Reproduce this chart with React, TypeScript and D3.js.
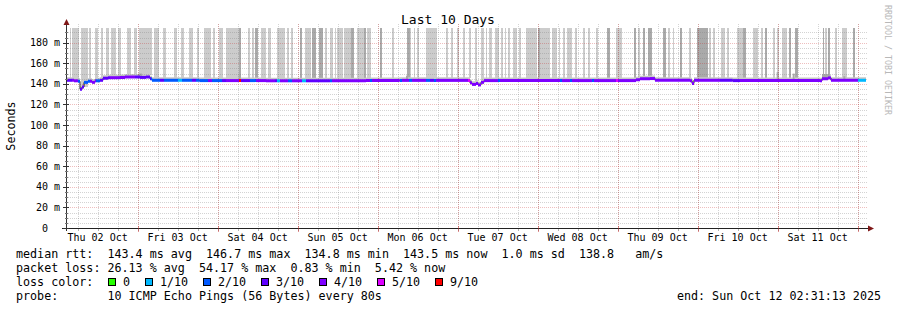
import React from "react";
import * as d3 from "d3";

const START = new Date(2025, 9, 2, 2, 31, 13);
const TOTAL_HOURS = 240;

const dayLabels = ["Thu 02 Oct", "Fri 03 Oct", "Sat 04 Oct", "Sun 05 Oct", "Mon 06 Oct", "Tue 07 Oct", "Wed 08 Oct", "Thu 09 Oct", "Fri 10 Oct", "Sat 11 Oct"];
const yTicks = [0, 20, 40, 60, 80, 100, 120, 140, 160, 180];
const yTickLabels = ["0", "20 m", "40 m", "60 m", "80 m", "100 m", "120 m", "140 m", "160 m", "180 m"];

// median rtt (ms) at hours since start
const medianPts: [number, number][] = [
  [0, 143.5], [2.4, 143.0], [3.6, 142.5], [4.2, 134.8], [4.8, 137.0], [5.4, 141.5], [6.6, 142.5],
  [7.8, 141.5], [8.7, 143.0], [10.2, 143.5], [11.1, 145.5], [12.6, 146.0], [16.2, 146.2], [17.7, 146.7],
  [22.2, 146.3], [24.0, 146.7], [25.2, 145.0], [25.8, 143.5], [40, 143.2], [60, 143.0], [90, 143.3],
  [100, 143.4], [121.2, 141.0], [121.8, 139.5], [123, 140.5], [123.6, 139.0], [124.5, 141.5], [125.4, 143.2],
  [150, 143.2], [171, 144.0], [172.2, 145.0], [175.2, 145.2], [176.7, 143.5], [187.2, 143.0], [187.8, 140.5],
  [188.4, 143.5], [200, 143.2], [226.2, 143.0], [226.8, 145.0], [228.6, 145.8], [229.5, 143.5], [240, 143.5],
];

// loss level (x/10) starting at hour
const lossSegs: [number, number][] = [
  [0, 3], [1.8, 4], [3.6, 2], [4.2, 3], [5.4, 2], [7.2, 4], [9.0, 2], [10.2, 3], [13.2, 4], [20.7, 3],
  [25.5, 2], [28.2, 3], [29.4, 2], [33.6, 1], [34.8, 2], [37.8, 3], [39.0, 2], [42.6, 4], [43.8, 2],
  [46.8, 3], [48.0, 4], [51.9, 9], [52.5, 3], [55.2, 2], [57.0, 4], [62.7, 3], [63.3, 1], [64.2, 4],
  [66.6, 2], [67.8, 4], [70.8, 1], [72.0, 3], [79.2, 2], [79.8, 4], [91.2, 2], [91.8, 4], [100.2, 2],
  [100.8, 4], [102.9, 2], [103.8, 4], [108.0, 2], [109.2, 3], [110.4, 2], [111.0, 4], [120.6, 5],
  [121.2, 4], [129.6, 2], [130.2, 4], [148.2, 2], [148.8, 4], [151.2, 2], [151.8, 4], [157.8, 2],
  [158.4, 4], [165.0, 5], [165.6, 4], [196.2, 3], [202.2, 4], [237.6, 1],
];

const lossColors: Record<number, string> = {
  0: "#26ff00", 1: "#00b8ff", 2: "#0059ff", 3: "#5e00ff", 4: "#7e00ff", 5: "#dd00ff", 9: "#ff0000",
};

const lossLegend = [
  { label: "0", level: 0 }, { label: "1/10", level: 1 }, { label: "2/10", level: 2 },
  { label: "3/10", level: 3 }, { label: "4/10", level: 4 }, { label: "5/10", level: 5 }, { label: "9/10", level: 9 },
];

// smoke columns: [startHour, endHour, dark?]
const smokeBars: [number, number, number][] = [
  [1.1, 1.4, 0], [1.8, 3.8, 0], [4.4, 6.6, 0], [7.0, 7.6, 0], [8.7, 9.6, 0], [10.4, 11.0, 0], [12.0, 12.8, 0],
  [13.6, 15.0, 0], [15.5, 16.5, 0], [18.2, 19.6, 0], [20.5, 21.2, 0], [22.0, 25.8, 0], [26.5, 28.0, 0],
  [29.2, 30.0, 0], [32.5, 33.2, 0], [34.6, 35.4, 0], [37.0, 38.2, 0], [39.3, 40.0, 0], [41.5, 43.6, 0],
  [44.1, 44.8, 0], [46.0, 47.0, 0],
  [48.0, 49.4, 0], [49.6, 51.8, 0], [52.0, 52.5, 1], [54.6, 55.2, 0], [55.8, 56.4, 0], [56.7, 57.6, 1],
  [58.5, 60.0, 0], [60.6, 61.5, 0], [63.3, 65.8, 0], [66.3, 67.0, 0], [67.5, 68.0, 0], [70.2, 70.8, 1],
  [71.7, 73.6, 0], [73.8, 75.0, 1], [75.8, 77.0, 1], [77.6, 78.4, 0], [79.2, 80.0, 0], [80.6, 81.0, 0],
  [81.4, 83.0, 0], [83.5, 85.5, 0], [85.6, 86.5, 1], [87.3, 89.5, 0], [89.5, 90.0, 1], [90.3, 91.5, 0],
  [94.2, 94.8, 1],
  [97.8, 98.4, 0], [102.2, 103.2, 1], [103.2, 103.6, 0], [104.4, 104.8, 0], [105.2, 105.8, 0],
  [108.0, 111.2, 0], [114.0, 114.6, 0], [115.4, 116.0, 0], [117.2, 117.8, 0], [119.0, 119.6, 0],
  [121.0, 121.6, 0], [122.8, 123.4, 0], [124.6, 125.4, 0], [126.0, 126.4, 0], [127.0, 127.8, 0],
  [128.6, 130.0, 0], [130.6, 131.2, 0], [131.6, 132.0, 0], [132.6, 133.2, 0], [134.0, 135.2, 0],
  [136.0, 136.5, 0], [138.0, 141.2, 0], [141.5, 142.2, 1], [142.2, 143.0, 0], [143.2, 144.0, 0],
  [144.0, 145.2, 0], [145.7, 147.2, 0], [147.8, 148.2, 0], [149.0, 149.6, 0], [150.2, 151.8, 0],
  [152.6, 153.2, 0], [155.0, 155.8, 0], [156.6, 157.2, 0], [159.0, 159.6, 0], [162.2, 163.2, 1],
  [165.0, 166.8, 0], [170.4, 171.0, 1], [171.6, 172.2, 0], [173.0, 173.6, 1], [174.6, 175.8, 1],
  [179.2, 180.0, 1], [180.6, 181.2, 0], [182.0, 182.4, 0], [184.2, 184.8, 1], [186.8, 187.4, 0],
  [189.4, 192.6, 1],
  [192.8, 193.4, 0], [194.2, 194.8, 0], [196.4, 197.6, 0], [198.4, 199.0, 0], [201.2, 203.0, 0],
  [203.0, 204.0, 1], [206.0, 207.6, 0], [208.6, 209.0, 0], [209.8, 210.2, 1], [212.0, 212.6, 0],
  [213.4, 213.8, 0], [214.8, 216.2, 0], [216.8, 217.4, 1], [218.8, 219.6, 1], [227.0, 227.4, 1],
  [227.8, 228.4, 0], [228.6, 229.2, 1], [230.8, 231.4, 0], [232.8, 234.4, 0], [236.0, 236.6, 1],
];

// smoke near the median: [startHour, endHour, top ms]
const smokeSpikes: [number, number, number][] = [
  [15.6, 18.0, 148], [21.6, 22.8, 150], [51.8, 52.4, 150], [102.0, 102.6, 148],
  [213.2, 213.8, 151.5], [218.0, 218.6, 150], [226.8, 229.2, 149.5], [233.2, 233.8, 147.5],
];

const legendRtt = "median rtt:  143.4 ms avg  146.7 ms max  134.8 ms min  143.5 ms now  1.0 ms sd  138.8   am/s";
const legendLoss = "packet loss: 26.13 % avg  54.17 % max  0.83 % min  5.42 % now";
const legendProbe = "probe:       10 ICMP Echo Pings (56 Bytes) every 80s";
const legendEnd = "end: Sun Oct 12 02:31:13 2025";

const W = 897, H = 310;
const X0 = 66, X1 = 866, YB = 228, YT = 28;
const MONO = "'DejaVu Sans Mono', monospace";

const toDate = (h: number) => new Date(START.getTime() + h * 3600e3);
const medianAt = (h: number) => {
  let v = medianPts[0][1];
  for (const p of medianPts) { if (p[0] <= h) v = p[1]; else break; }
  return v;
};

export default function App() {
  const end = toDate(TOTAL_HOURS);
  const x = d3.scaleTime().domain([START, end]).range([X0, X1]);
  const y = d3.scaleLinear().domain([0, 194.3]).range([YB, YT]);
  const xh = (h: number) => x(toDate(h));

  const minorT = d3.timeHour.every(6)!.range(START, end);
  const majorT = d3.timeDay.range(START, end);
  const minorY = d3.range(5, 195, 5).filter((v) => v % 20 !== 0);
  const majorY = yTicks.filter((v) => v > 0);
  const noon = majorT.map((d) => d3.timeHour.offset(d, -12));
  const crisp = (v: number) => Math.round(v) + 0.5;

  const lineGen = d3.line<[number, number]>()
    .x((d) => xh(d[0]))
    .y((d) => y(d[1]))
    .curve(d3.curveStepAfter);

  const bandArea = d3.area<[number, number]>()
    .x((d) => xh(d[0]))
    .y0((d) => y(d[1]))
    .y1((d) => y(d[1] + 3))
    .curve(d3.curveStepAfter);

  const pieces: { d: string; c: string }[] = [];
  lossSegs.forEach((seg, i) => {
    const s = seg[0];
    const e = i + 1 < lossSegs.length ? lossSegs[i + 1][0] : TOTAL_HOURS;
    const times = [s, ...medianPts.filter((p) => p[0] > s && p[0] < e).map((p) => p[0]), e];
    for (let k = 0; k < times.length - 1; k++) {
      const yy = y(medianAt(times[k]));
      pieces.push({ d: `M${xh(times[k])},${yy}H${xh(times[k + 1])}`, c: lossColors[seg[1]] });
    }
  });

  const charW = 7.0;
  let lx = 108;
  const legendItems = lossLegend.map((it) => {
    const item = { ...it, bx: lx, tx: lx + 15 };
    lx = lx + 15 + it.label.length * charW + 15;
    return item;
  });

  const minorStroke = "rgba(128,128,128,0.35)";
  const majorStroke = "rgba(200,40,40,0.3)";

  return (
    <svg width={W} height={H} style={{ position: "absolute", left: 0, top: 0, background: "#fff" }} fontFamily={MONO}>
      <rect x={0} y={0} width={W} height={H} fill="#ffffff" />
      {/* smoke columns */}
      <g shapeRendering="crispEdges">
        {smokeBars.map((b, i) => (
          <rect key={"sb" + i} x={Math.round(xh(b[0]))} width={Math.max(1, Math.round(xh(b[1])) - Math.round(xh(b[0])))} y={YT}
            height={Math.round(y(medianAt(b[0]) + 2)) - YT} fill={b[2] ? "#aaaaaa" : "#cccccc"} />
        ))}
      </g>
      <path d={bandArea(medianPts) || ""} fill="#c8c8c8" />
      {smokeSpikes.map((s, i) => (
        <rect key={"sp" + i} x={xh(s[0])} width={xh(s[1]) - xh(s[0])} y={y(s[2])}
          height={y(medianAt(s[0])) - y(s[2])} fill="#a8a8a8" />
      ))}
      {/* grid */}
      <g shapeRendering="crispEdges" strokeDasharray="1,1" strokeWidth={1}>
        {minorT.map((t, i) => (
          <line key={"mt" + i} x1={crisp(x(t))} x2={crisp(x(t))} y1={YT - 4} y2={YB} stroke={minorStroke} />
        ))}
        {minorY.map((v, i) => (
          <line key={"my" + i} x1={X0} x2={X1 + 2} y1={crisp(y(v))} y2={crisp(y(v))} stroke={minorStroke} />
        ))}
        {majorT.map((t, i) => (
          <line key={"Mt" + i} x1={crisp(x(t))} x2={crisp(x(t))} y1={YT - 4} y2={YB} stroke={majorStroke} />
        ))}
        {majorY.map((v, i) => (
          <line key={"My" + i} x1={X0} x2={X1 + 2} y1={crisp(y(v))} y2={crisp(y(v))} stroke={majorStroke} />
        ))}
      </g>
      {/* median line */}
      <path d={lineGen(medianPts) || ""} fill="none" stroke="#202020" strokeWidth={1} />
      {pieces.map((p, i) => (
        <path key={"pc" + i} d={p.d} stroke={p.c} strokeWidth={3} fill="none" />
      ))}
      {/* axes */}
      <g shapeRendering="crispEdges">
        <line x1={X0 + 0.5} x2={X0 + 0.5} y1={YB + 3} y2={YT - 6} stroke="#333" />
        <line x1={X0 - 4} x2={X1 + 3} y1={YB + 0.5} y2={YB + 0.5} stroke="#222" />
        {yTicks.map((v, i) => (
          <line key={"yt" + i} x1={X0 - 3} x2={X0 + 3} y1={crisp(y(v))} y2={crisp(y(v))} stroke="#333" />
        ))}
        {minorY.map((v, i) => (
          <line key={"ymt" + i} x1={X0 - 1} x2={X0 + 2} y1={crisp(y(v))} y2={crisp(y(v))} stroke="#777" />
        ))}
        {minorT.map((t, i) => (
          <line key={"xt" + i} x1={crisp(x(t))} x2={crisp(x(t))} y1={YB + 1} y2={YB + 3} stroke="rgba(128,128,128,0.6)" />
        ))}
        {majorT.map((t, i) => (
          <line key={"xM" + i} x1={crisp(x(t))} x2={crisp(x(t))} y1={YB - 2} y2={YB + 4} stroke="rgba(200,40,40,0.5)" />
        ))}
      </g>
      <path d={`M${X0 - 2.5},${YT - 3}L${X0 + 3.5},${YT - 3}L${X0 + 0.5},${YT - 9}Z`} fill="#7f1818" />
      <path d={`M${X1 + 2},${YB - 2.5}L${X1 + 2},${YB + 3.5}L${X1 + 8},${YB + 0.5}Z`} fill="#7f1818" />
      {/* y labels */}
      {yTicks.map((v, i) => (
        <text key={"yl" + i} x={v === 0 ? 48 : 60} y={y(v) + 3.5} fontSize={10} textAnchor="end" fill="#000">
          {yTickLabels[i]}
        </text>
      ))}
      {/* x labels */}
      {noon.map((t, i) => (
        <text key={"xl" + i} x={x(t)} y={241} fontSize={10} textAnchor="middle" fill="#000">
          {dayLabels[i]}
        </text>
      ))}
      {/* title */}
      <text x={448} y={24} fontSize={13} textAnchor="middle" fill="#000">Last 10 Days</text>
      <text transform="translate(15,126) rotate(-90)" fontSize={11.7} textAnchor="middle" fill="#000">Seconds</text>
      <text transform="translate(885,5) rotate(90)" fontSize={8.3} fill="#b8b8b8">RRDTOOL / TOBI OETIKER</text>
      {/* legend */}
      <g fontSize={11.7} fill="#000" style={{ whiteSpace: "pre" }}>
        <text x={16} y={258} xmlSpace="preserve">{legendRtt}</text>
        <text x={16} y={272} xmlSpace="preserve">{legendLoss}</text>
        <text x={16} y={286}>loss color:</text>
        {legendItems.map((it, i) => (
          <g key={"lg" + i}>
            <rect x={it.bx + 0.5} y={278.5} width={7} height={7} fill={lossColors[it.level]} stroke="#000" strokeWidth={1} shapeRendering="crispEdges" />
            <text x={it.tx} y={286}>{it.label}</text>
          </g>
        ))}
        <text x={16} y={300} xmlSpace="preserve">{legendProbe}</text>
        <text x={881} y={300} textAnchor="end">{legendEnd}</text>
      </g>
    </svg>
  );
}
